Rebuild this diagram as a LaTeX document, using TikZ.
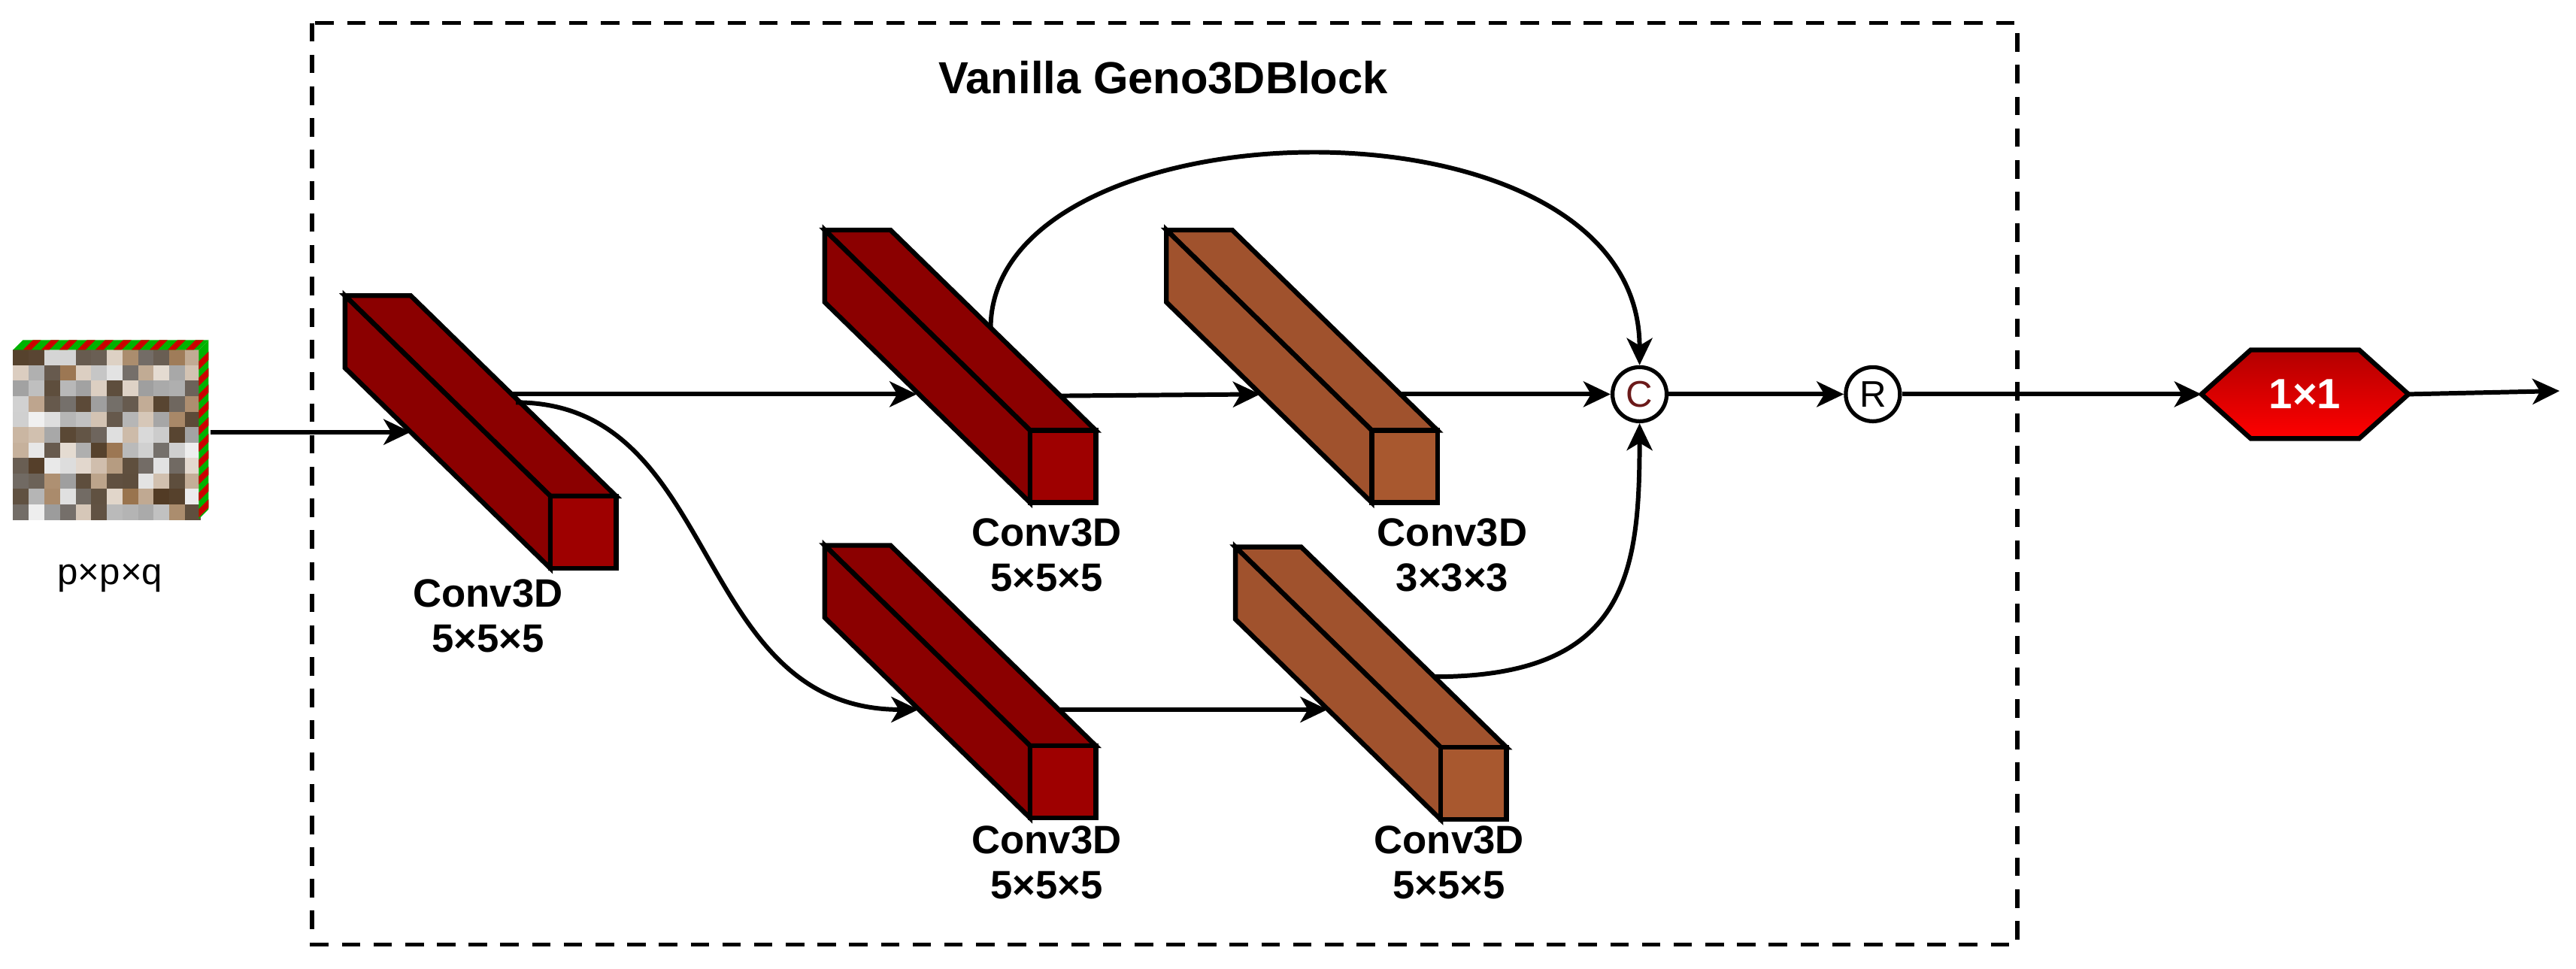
\documentclass[tikz,border=0pt]{standalone}
\usepackage{fontspec}
\setmainfont{Liberation Sans}
\usetikzlibrary{arrows.meta,shapes.geometric}
\definecolor{redside}{HTML}{8B0000}
\definecolor{redfront}{HTML}{9E0000}
\definecolor{brside}{HTML}{A0522D}
\definecolor{brfront}{HTML}{A8582F}
\definecolor{cred}{HTML}{6B1A1A}
\newcommand\myprism[4]{%
\begin{scope}[shift={(#1,#2)}]
 \filldraw[fill=#3,blk] (0,0) -- (40,0) -- (165,122) -- (125,122) -- cycle;
 \filldraw[fill=#3,blk] (0,0) -- (125,122) -- (125,166) -- (0,44) -- cycle;
 \filldraw[fill=#4,blk] (125,122) rectangle (165,166);
\end{scope}}
\begin{document}
\begin{tikzpicture}[x=0.02185cm,y=-0.02185cm,
  blk/.style={line width=1.8pt,line join=miter},
  con/.style={line width=1.7pt,-{Stealth[length=0.36cm,width=0.34cm,inset=0.1cm]}},
  lab/.style={font=\fontsize{15}{17}\selectfont\bfseries,align=center},
  circ/.style={circle,draw,line width=1.5pt,minimum size=0.72cm,inner sep=0pt,font=\fontsize{14}{14}\selectfont}]
\useasboundingbox (0,0) rectangle (1568,589.5);
% dashed block
\draw[line width=1.6pt,dash pattern=on 7pt off 5pt] (190,14) rectangle (1228,575);
\node[font=\fontsize{17}{19}\selectfont\bfseries] (title) at (708,47) {Vanilla Geno3DBlock};
% input cube
\pgfmathsetseed{7}
\foreach \i in {0,...,11}{\foreach \j in {0,...,10}{
  \pgfmathsetmacro\g{int(20+70*rnd)}
  \pgfmathsetmacro\b{int(rnd*100)}
  \ifnum\b>70 \def\cc{white!\g!gray}\else\ifnum\b>35 \def\cc{brown!70!black!\g!white}\else\def\cc{black!60!brown!\g!gray}\fi\fi
  \fill[\cc] (8+\i*9.5,213+\j*9.4) rectangle ++(9.6,9.5);}}
\fill[green!70!black] (8,213) -- (14,207) -- (127,207) -- (121,213) -- cycle;
\foreach \k in {0,...,9}{\fill[red!80!black] (20+\k*11,207) -- ++(5,0) -- ++(-6,6) -- ++(-5,0) -- cycle;}
\fill[green!70!black] (121,213) -- (127,207) -- (127,310) -- (121,316) -- cycle;
\foreach \k in {0,...,9}{\fill[red!80!black] (121,220+\k*10) -- ++(6,-6) -- ++(0,5) -- ++(-6,6) -- cycle;}
\node[font=\fontsize{14}{16}\selectfont] (pq) at (67,352) {p×p×q};
% blocks
\myprism{210}{180}{redside}{redfront}
\myprism{502}{140}{redside}{redfront}
\myprism{710}{140}{brside}{brfront}
\myprism{502}{332}{redside}{redfront}
\myprism{752}{333}{brside}{brfront}
\node[lab] (l1) at (297,375) {Conv3D\\5×5×5};
\node[lab] (l2) at (637,338) {Conv3D\\5×5×5};
\node[lab] (l3) at (884,338) {Conv3D\\3×3×3};
\node[lab] (l4) at (637,525) {Conv3D\\5×5×5};
\node[lab] (l5) at (882,525) {Conv3D\\5×5×5};
% connector coordinates
\coordinate (inout) at (128,263);
\coordinate (b1in) at (250,263);
\coordinate (b1out) at (311,240);
\coordinate (b1out2) at (314,245);
\coordinate (b2in) at (558,240);
\coordinate (b2out) at (645,241);
\coordinate (b2top) at (603,200);
\coordinate (b3in) at (767,240);
\coordinate (b3out) at (852,240);
\coordinate (b4in) at (559,432);
\coordinate (b4out) at (644,432);
\coordinate (b5in) at (808,432);
\coordinate (b5out) at (873,412);
\coordinate (outend) at (1558,238);
\coordinate (hw) at (1340,240);
\coordinate (he) at (1466,240);
\node[circ,text=cred] (C) at (998,240) {C};
\node[circ] (R) at (1140,240) {R};
\path[draw=black,line width=1.8pt,top color=red!70!black,bottom color=red,line join=miter]
  (hw) -- (1370,213) -- (1436,213) -- (he) -- (1436,267) -- (1370,267) -- cycle;
\node[text=white,font=\fontsize{16}{16}\selectfont\bfseries] (hl) at (1403,240) {1×1};
% connectors
\draw[con] (inout) -- (b1in);
\draw[con] (b1out) -- (b2in);
\draw[con] (b1out2) .. controls (440,245) and (420,432) .. (b4in);
\draw[con] (b2out) -- (b3in);
\draw[con] (b3out) -- (C);
\draw[con] (b2top) .. controls (603,60) and (998,50) .. (C.north);
\draw[con] (b4out) -- (b5in);
\draw[con] (b5out) .. controls (990,412) and (998,350) .. (C.south);
\draw[con] (C) -- (R);
\draw[con] (R) -- (hw);
\draw[con] (he) -- (outend);
\end{tikzpicture}
\end{document}
